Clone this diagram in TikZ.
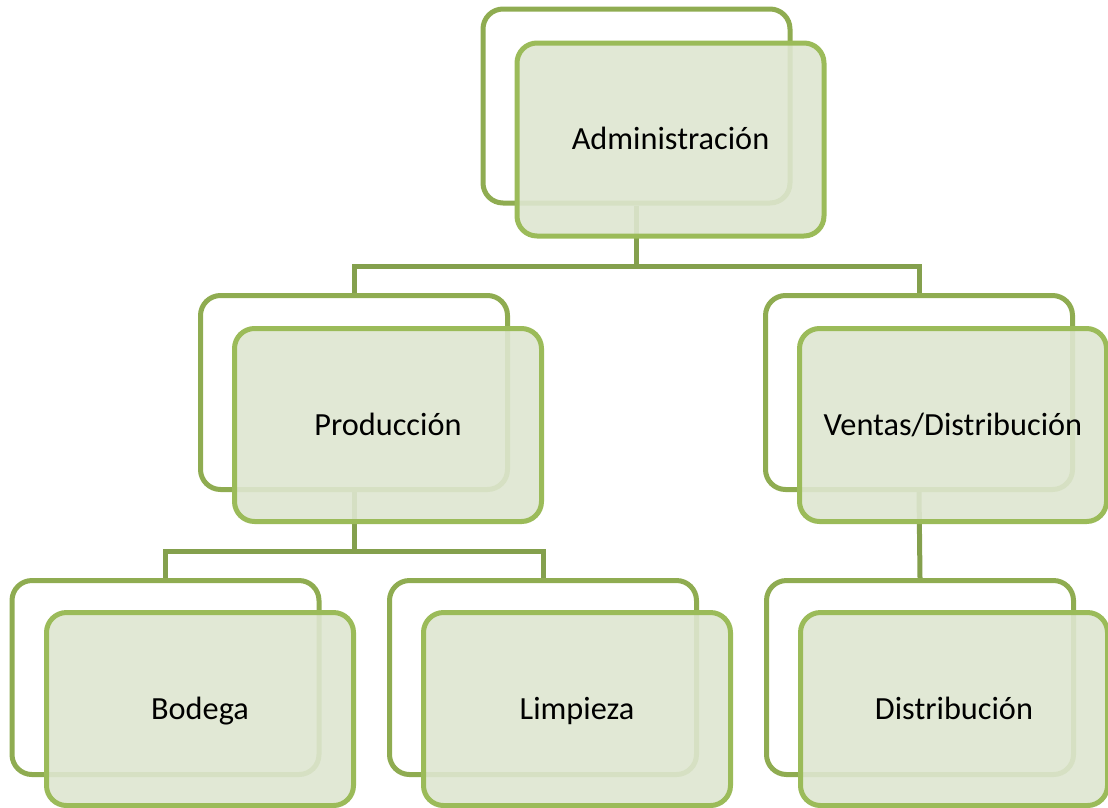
\documentclass[tikz,border=0pt]{standalone}
\usepackage{fontspec}
\setmainfont{Carlito}
\usetikzlibrary{backgrounds}
\definecolor{backline}{HTML}{8FAC51}
\definecolor{frontline}{HTML}{9BBB59}
\definecolor{frontfill}{HTML}{DEE6D0}
\definecolor{connline}{HTML}{84A04D}
\tikzset{
  backbox/.style={draw=backline, line width=5pt, rounded corners=20pt, rectangle,
    minimum width=307pt, minimum height=194pt, inner sep=0pt},
  frontbox/.style={draw=frontline, line width=5pt, rounded corners=20pt, rectangle,
    fill=frontfill, fill opacity=0.9, text opacity=1,
    minimum width=307pt, minimum height=193pt, inner sep=0pt,
    text height=20.5pt, text depth=0pt,
    font=\fontsize{32.3}{38}\selectfont, text=black},
  conn/.style={draw=connline, line width=5pt}
}
\begin{document}
\begin{tikzpicture}[x=1pt,y=-1pt]
\path[use as bounding box] (0,0) rectangle (1108,807);
% back frames
\node[backbox] (adminB) at (636.5,106) {};
\node[backbox] (prodB) at (354,392.5) {};
\node[backbox] (ventB) at (919,392.5) {};
\node[backbox] (bodB) at (165.5,677.5) {};
\node[backbox] (limB) at (543,677.5) {};
\node[backbox] (distB) at (920,677.5) {};
% front boxes
\node[frontbox] (admin) at (670.5,139.5) {Administración};
\node[frontbox] (prod) at (388,425) {Producción};
\node[frontbox] (vent) at (953,425) {Ventas/Distribución};
\node[frontbox] (bod) at (200,709) {Bodega};
\node[frontbox] (lim) at (577,709) {Limpieza};
\node[frontbox] (dist) at (954,709) {Distribución};
% connectors
\coordinate (bus1) at (636.5,266);
\coordinate (bus2) at (354,551);
\begin{scope}[on background layer]
\draw[conn] (adminB.south) -- (bus1);
\draw[conn] (prodB.north) |- (bus1) -| (ventB.north);
\draw[conn] (prodB.south) -- (bus2);
\draw[conn] (bodB.north) |- (bus2) -| (limB.north);
\draw[conn] (ventB.south) -- (distB.north);
\end{scope}
\end{tikzpicture}
\end{document}
